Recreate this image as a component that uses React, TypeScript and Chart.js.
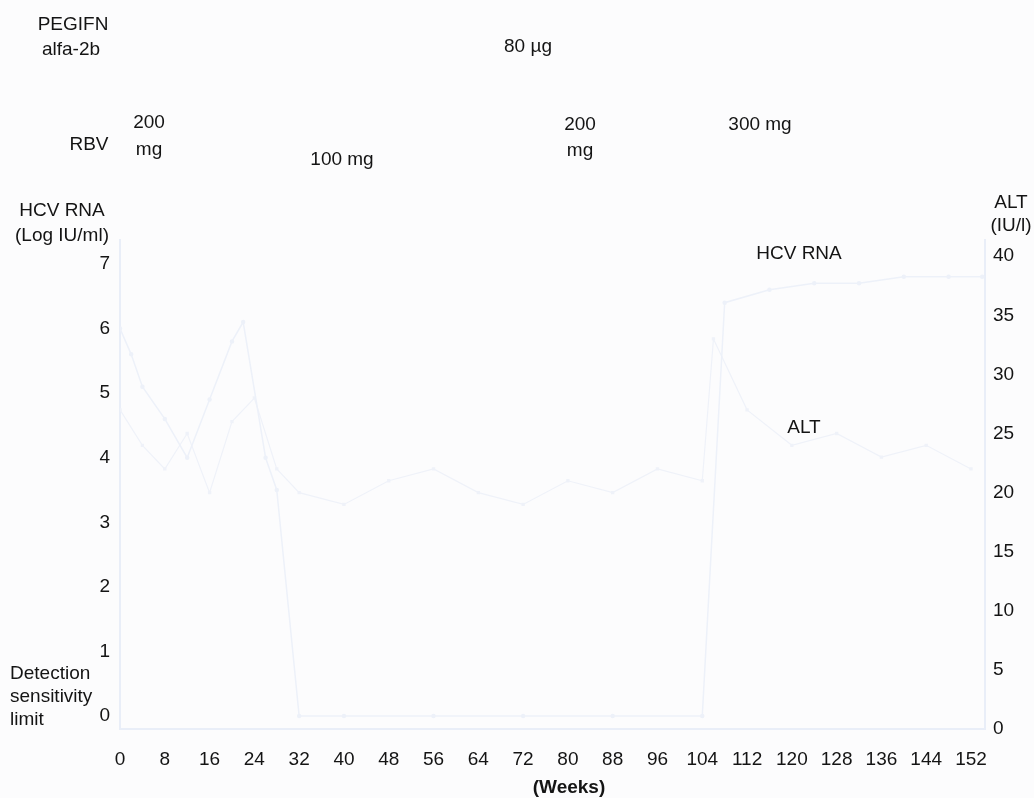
import React, { useEffect, useRef } from "react";
import { Chart, registerables } from "chart.js";

Chart.register(...registerables);

// Treatment weeks and the two monitored markers (faded traces)
const hcvWeeks = [0, 2, 4, 8, 12, 16, 20, 22, 26, 28, 32, 40, 56, 72, 88, 104, 108, 116, 124, 132, 140, 148, 154];
const hcvValues = [6.0, 5.6, 5.1, 4.6, 4.0, 4.9, 5.8, 6.1, 4.0, 3.5, 0, 0, 0, 0, 0, 0, 6.4, 6.6, 6.7, 6.7, 6.8, 6.8, 6.8];

const altWeeks = [0, 4, 8, 12, 16, 20, 24, 28, 32, 40, 48, 56, 64, 72, 80, 88, 96, 104, 106, 112, 120, 128, 136, 144, 152];
const altValues = [27, 24, 22, 25, 20, 26, 28, 22, 20, 19, 21, 22, 20, 19, 21, 20, 22, 21, 33, 27, 24, 25, 23, 24, 22];

// Axis ranges and tick steps
const weekRange = [0, 154.5];
const weekStep = 8;
const hcvRange = [-0.2, 7.37];
const hcvStep = 1;
const altRange = [0, 41.37];
const altStep = 5;

// Dose schedule labels
const pegLabel = "80 µg";
const rbvDoses = [
  { lines: ["200", "mg"], x: 149, y: [123, 150] },
  { lines: ["100 mg"], x: 342, y: [160] },
  { lines: ["200", "mg"], x: 580, y: [125, 151] },
  { lines: ["300 mg"], x: 760, y: [125] },
];

const TEXT = "#141414";
const FONT = "Liberation Sans, Arial, Helvetica, sans-serif";
const FAINT = "#e9eef8";

const textPlugin = {
  id: "panelText",
  beforeDraw(chart: any) {
    const { ctx } = chart;
    ctx.save();
    ctx.fillStyle = "#fcfcfd";
    ctx.fillRect(0, 0, chart.width, chart.height);
    ctx.restore();
  },
  afterDraw(chart: any) {
    const { ctx } = chart;
    ctx.save();
    ctx.fillStyle = TEXT;
    ctx.textBaseline = "middle";
    ctx.font = `19px ${FONT}`;
    const put = (t: string, x: number, y: number, align: CanvasTextAlign = "center") => {
      ctx.textAlign = align;
      ctx.fillText(t, x, y);
    };
    // row headers
    put("PEGIFN", 73, 25);
    put("alfa-2b", 71, 50);
    put("RBV", 89, 145);
    put("HCV RNA", 62, 211);
    put("(Log IU/ml)", 62, 236);
    put("ALT", 1011, 203);
    put("(IU/l)", 1011, 226);
    // doses
    put(pegLabel, 528, 47);
    rbvDoses.forEach((d) => d.lines.forEach((l, i) => put(l, d.x, d.y[i])));
    // series names
    put("HCV RNA", 799, 254);
    put("ALT", 804, 428);
    // detection limit note
    put("Detection", 10, 674, "left");
    put("sensitivity", 10, 697, "left");
    put("limit", 10, 720, "left");
    // x axis title
    ctx.font = `bold 19px ${FONT}`;
    put("(Weeks)", 569, 788);
    ctx.restore();
  },
};

export default function App() {
  const ref = useRef<HTMLCanvasElement>(null);

  useEffect(() => {
    if (!ref.current) return;
    const tickFont = { family: FONT, size: 19 };
    const chart = new Chart(ref.current, {
      type: "line",
      data: {
        datasets: [
          {
            label: "HCV RNA",
            data: hcvWeeks.map((w, i) => ({ x: w, y: hcvValues[i] })),
            yAxisID: "yHcv",
            borderColor: "#edf1f9",
            backgroundColor: "#edf1f9",
            borderWidth: 1.5,
            pointRadius: 1.5,
            tension: 0,
          },
          {
            label: "ALT",
            data: altWeeks.map((w, i) => ({ x: w, y: altValues[i] })),
            yAxisID: "yAlt",
            borderColor: "#eff2f9",
            backgroundColor: "#eff2f9",
            borderWidth: 1.2,
            pointRadius: 1.5,
            pointStyle: "rect",
            tension: 0,
          },
        ],
      },
      options: {
        responsive: false,
        animation: false,
        layout: { padding: { top: 240, left: 0, right: 0, bottom: 0 } },
        plugins: { legend: { display: false }, tooltip: { enabled: false } },
        scales: {
          x: {
            type: "linear",
            position: "bottom",
            min: weekRange[0],
            max: weekRange[1],
            grid: { display: false, drawTicks: false },
            border: { color: FAINT, width: 2 },
            ticks: {
              stepSize: weekStep,
              includeBounds: false,
              autoSkip: false,
              maxRotation: 0,
              padding: 19,
              color: TEXT,
              font: tickFont,
            },
            afterFit(s: any) {
              s.height = 69;
            },
          },
          yHcv: {
            type: "linear",
            position: "left",
            min: hcvRange[0],
            max: hcvRange[1],
            grid: { display: false, drawTicks: false },
            border: { color: FAINT, width: 2 },
            ticks: {
              stepSize: hcvStep,
              includeBounds: false,
              padding: 10,
              color: TEXT,
              font: tickFont,
            },
            afterFit(s: any) {
              s.width = 120;
            },
          },
          yAlt: {
            type: "linear",
            position: "right",
            min: altRange[0],
            max: altRange[1],
            grid: { display: false, drawTicks: false },
            border: { color: FAINT, width: 2 },
            ticks: {
              stepSize: altStep,
              includeBounds: false,
              padding: 8,
              color: TEXT,
              font: tickFont,
            },
            afterFit(s: any) {
              s.width = 49;
            },
          },
        },
      },
      plugins: [textPlugin],
    } as any);
    return () => chart.destroy();
  }, []);

  return (
    <div style={{ position: "fixed", left: 0, top: 0, width: 1034, height: 798 }}>
      <canvas ref={ref} width={1034} height={798} />
    </div>
  );
}
